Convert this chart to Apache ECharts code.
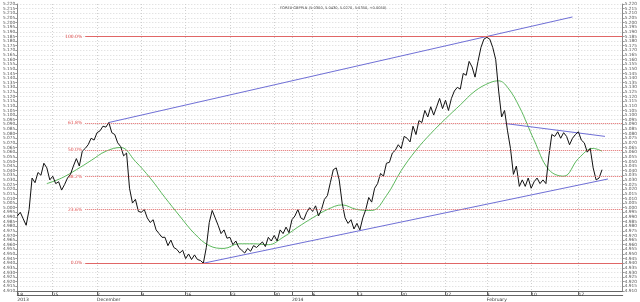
<!DOCTYPE html>
<html><head><meta charset="utf-8">
<script src="https://cdn.jsdelivr.net/npm/echarts@6/dist/echarts.min.js"></script>
<style>html,body{margin:0;padding:0;background:#fff}#c{width:640px;height:302px}</style>
</head><body><div id="c"></div>
<script>
const chartTitle = 'FOREX GBPPLN (5.0300, 5.0430, 5.0270, 5.0350, +0.0050)';
const slotCount = 206;
const categories = Array.from({length: slotCount}, (_, i) => String(i));
const prices = [
4.991,4.995,4.988,4.981,4.998,5.032,5.027,5.038,5.035,5.048,
5.043,5.030,5.034,5.026,5.028,5.019,5.025,5.032,5.036,5.045,
5.053,5.045,5.061,5.064,5.068,5.075,5.073,5.081,5.083,5.088,
5.087,5.092,5.081,5.079,5.070,5.066,5.056,5.059,5.021,5.005,
5.009,4.996,4.995,4.998,4.989,4.984,4.987,4.976,4.972,4.968,
4.968,4.959,4.965,4.957,4.955,4.951,4.954,4.945,4.950,4.944,
4.949,4.944,4.943,4.940,4.957,4.984,4.997,4.989,4.981,4.972,
4.976,4.967,4.968,4.960,4.964,4.957,4.954,4.951,4.956,4.953,
4.959,4.957,4.960,4.963,4.958,4.968,4.964,4.970,4.964,4.976,
4.972,4.979,4.973,4.987,4.991,4.998,4.989,4.987,4.995,5.000,
4.996,5.002,4.991,4.998,5.009,5.013,5.027,5.041,5.043,5.030,
5.005,4.989,4.983,4.987,4.977,4.983,4.976,4.989,4.998,5.011,
5.006,5.021,5.026,5.037,5.034,5.048,5.049,5.059,5.062,5.068,
5.064,5.077,5.075,5.071,5.088,5.079,5.094,5.092,5.105,5.098,
5.109,5.100,5.109,5.118,5.107,5.116,5.105,5.118,5.126,5.130,
5.128,5.145,5.143,5.158,5.152,5.141,5.158,5.173,5.182,5.184,
5.182,5.173,5.160,5.126,5.098,5.105,5.083,5.064,5.036,5.045,
5.023,5.030,5.023,5.032,5.021,5.028,5.032,5.026,5.030,5.026,
5.056,5.079,5.077,5.082,5.075,5.081,5.077,5.068,5.075,5.079,
5.082,5.073,5.070,5.060,5.064,5.043,5.030,5.032,5.041
];
const maIndex = [10,15,20,25,30,35,40,45,50,55,60,65,70,75,80,85,90,95,100,105,110,115,120,125,130,135,140,145,150,155,160,163,166,170,175,180,185,190,195,198];
const maValues = [5.026,5.032,5.041,5.051,5.061,5.065,5.050,5.032,5.011,4.991,4.972,4.959,4.956,4.961,4.961,4.960,4.968,4.979,4.989,4.998,5.003,4.998,4.997,5.013,5.040,5.062,5.080,5.096,5.111,5.126,5.135,5.137,5.130,5.109,5.073,5.041,5.034,5.053,5.064,5.061];
const upperChannel = [[31, 5.092], [188, 5.206]];
const lowerChannel = [[63, 4.940], [200, 5.031]];
const resistanceLine = [[165, 5.091], [199, 5.077]];
const fibHigh = 5.185, fibLow = 4.940;
const fibRatios = [0, 0.236, 0.382, 0.5, 0.618, 1];
const fibStartSlot = 23;
const weekTicks = {0:['18','2013'],12:['25',''],27:['2','December'],42:['9',''],57:['16',''],72:['23',''],87:['30',''],93:['','2014'],100:['6',''],115:['13',''],130:['20',''],145:['27',''],159:['3','February'],174:['10',''],190:['17','']};

const chart = echarts.init(document.getElementById('c'));
const isTick = (i) => weekTicks[i] !== undefined;
const fibLines = fibRatios.map(r => {
  const lv = fibLow + (fibHigh - fibLow) * r;
  const solid = (r === 0 || r === 1);
  return [
    {coord: [fibStartSlot, lv], label: {formatter: (r * 100).toFixed(1) + '%'},
     lineStyle: {type: solid ? 'solid' : [1, 1], color: '#e06666', width: 1}},
    {coord: [slotCount - 1, lv]}
  ];
});
const yAxisCommon = {
  type: 'value', min: 4.910, max: 5.220, interval: 0.005,
  axisLine: {show: true, lineStyle: {color: '#888'}},
  axisTick: {show: true, length: 2, lineStyle: {color: '#999'}},
  axisLabel: {fontSize: 4.3, color: '#555', margin: 2, formatter: v => v.toFixed(3), fontFamily: 'DejaVu Sans'},
  splitLine: {show: true, lineStyle: {color: '#d8d8d8', type: [1, 2], width: 1}}
};
chart.setOption({
  animation: false,
  backgroundColor: '#fff',
  title: {text: chartTitle, left: 275, top: 1, textStyle: {fontSize: 3.6, fontWeight: 'normal', color: '#444', fontFamily: 'DejaVu Sans'}},
  grid: {left: 12, right: 13, top: 4, bottom: 8},
  xAxis: [{
    type: 'category', data: categories, boundaryGap: false,
    axisLine: {show: true, lineStyle: {color: '#666'}},
    axisTick: {show: true, length: 4, interval: (i) => isTick(i), lineStyle: {color: '#666'}},
    axisLabel: {show: true, interval: (i) => isTick(i), fontSize: 4.5, color: '#333', align: 'left', margin: 1, lineHeight: 5,
      formatter: (v, i) => { const t = weekTicks[i]; return t ? (t[0] + '\n' + t[1]) : ''; }, fontFamily: 'DejaVu Sans'},
    splitLine: {show: true, interval: (i) => isTick(i), lineStyle: {color: '#cfcfcf', type: [1, 2]}}
  }, {
    type: 'category', data: categories, boundaryGap: false, position: 'bottom', offset: 4,
    axisLine: {show: true, lineStyle: {color: '#666'}}, axisTick: {show: false}, axisLabel: {show: false}, splitLine: {show: false}
  }],
  yAxis: [Object.assign({position: 'left'}, yAxisCommon),
          Object.assign({position: 'right'}, yAxisCommon, {splitLine: {show: false}})],
  series: [
    {type: 'line', data: maIndex.map((k, j) => [k, maValues[j]]), smooth: 0.4, showSymbol: false,
     lineStyle: {color: '#5cb85c', width: 1}, silent: true, z: 2},
    {type: 'line', data: upperChannel, showSymbol: false, lineStyle: {color: '#6f6fd6', width: 1}, silent: true, z: 3},
    {type: 'line', data: lowerChannel, showSymbol: false, lineStyle: {color: '#6f6fd6', width: 1}, silent: true, z: 3},
    {type: 'line', data: resistanceLine, showSymbol: false, lineStyle: {color: '#6f6fd6', width: 1}, silent: true, z: 3},
    {type: 'line', data: prices, showSymbol: false, lineStyle: {color: '#111', width: 1}, silent: true, z: 4,
     markLine: {silent: true, symbol: 'none', animation: false,
       label: {show: true, position: 'start', fontSize: 4.5, color: '#e05050', distance: 3, fontFamily: 'DejaVu Sans'},
       data: fibLines}}
  ]
});
</script></body></html>
